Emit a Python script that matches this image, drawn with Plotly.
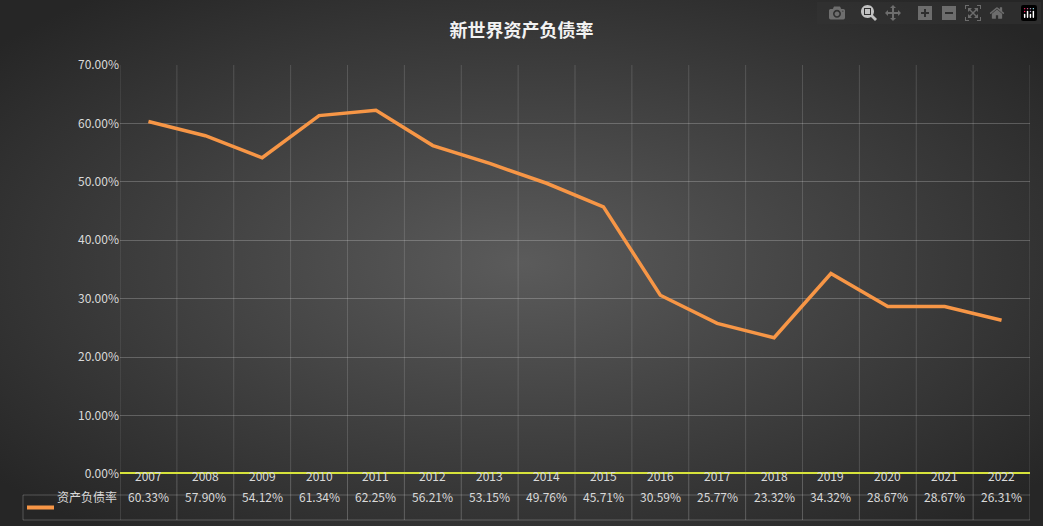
import base64
import plotly.graph_objects as go

years = ["2007", "2008", "2009", "2010", "2011", "2012", "2013", "2014",
         "2015", "2016", "2017", "2018", "2019", "2020", "2021", "2022"]
ratio = [60.33, 57.90, 54.12, 61.34, 62.25, 56.21, 53.15, 49.76,
         45.71, 30.59, 25.77, 23.32, 34.32, 28.67, 28.67, 26.31]
series_name = "资产负债率"
title = "<b>新世界资产负债率</b>"

W, H = 1043, 526
L, R, T, B = 120, 13, 65, 52
font = "Noto Sans CJK SC"
line_col = "rgba(255,255,255,0.22)"
txt_col = "#d9d9d9"

svg = f'''<svg xmlns="http://www.w3.org/2000/svg" width="{W}" height="{H}">
<defs><radialGradient id="g" cx="50%" cy="50%" r="65%">
<stop offset="0" stop-color="#5b5b5b"/><stop offset="1" stop-color="#262626"/>
</radialGradient></defs><rect width="{W}" height="{H}" fill="url(#g)"/></svg>'''
bg = "data:image/svg+xml;base64," + base64.b64encode(svg.encode()).decode()

pw, ph = W - L - R, H - T - B
px = lambda v: (v - L) / pw
py = lambda v: (H - B - v) / ph  # v measured from top of figure -> paper y

fig = go.Figure(go.Scatter(
    x=years, y=ratio, mode="lines", name=series_name,
    line=dict(color="#f79646", width=3.5),
))

shapes, annots = [], []
row1_top, row1_bot, row2_bot = H - B, H - B + 21, H - 6
n = len(years)
# vertical table lines
for i in range(n + 1):
    xi = i - 0.5
    shapes.append(dict(type="line", xref="x", yref="paper", x0=xi, x1=xi,
                       y0=py(row1_top), y1=py(row2_bot), line=dict(color=line_col, width=1)))
# horizontal table lines
for yv in [row1_bot, row2_bot]:
    shapes.append(dict(type="line", xref="paper", yref="paper", x0=px(23), x1=1,
                       y0=py(yv), y1=py(yv), line=dict(color=line_col, width=1)))
shapes.append(dict(type="line", xref="paper", yref="paper", x0=px(23), x1=px(23),
                   y0=py(row1_bot), y1=py(row2_bot), line=dict(color=line_col, width=1)))
# legend key in table
mid2 = (row1_bot + row2_bot) / 2
shapes.append(dict(type="line", xref="paper", yref="paper", x0=px(27), x1=px(54),
                   y0=py(mid2), y1=py(mid2), line=dict(color="#f79646", width=4)))
annots.append(dict(xref="paper", yref="paper", x=px(55), y=py(mid2),
                   text=series_name, showarrow=False, xanchor="left",
                   font=dict(size=12, color=txt_col, family=font)))
for i, (yr, v) in enumerate(zip(years, ratio)):
    annots.append(dict(xref="x", yref="paper", x=i, y=py((row1_top + row1_bot) / 2 + 1),
                       text=yr, showarrow=False, font=dict(size=12, color=txt_col, family=font)))
    annots.append(dict(xref="x", yref="paper", x=i, y=py(mid2),
                       text=f"{v:.2f}%", showarrow=False, font=dict(size=12, color=txt_col, family=font)))
# yellow baseline
shapes.append(dict(type="line", xref="paper", yref="y", x0=0, x1=1, y0=0, y1=0,
                   line=dict(color="#d7e33b", width=4)))

fig.update_layout(
    width=W, height=H, margin=dict(l=L, r=R, t=T, b=B),
    paper_bgcolor="#333333", plot_bgcolor="rgba(0,0,0,0)",
    showlegend=False,
    title=dict(text=title, x=0.5, y=1 - 31 / H, yanchor="middle",
               font=dict(size=18, color="#f2f2f2", family=font)),
    images=[dict(source=bg, xref="paper", yref="paper", x=-L / pw, y=1 + T / ph,
                 sizex=W / pw, sizey=H / ph, sizing="stretch", layer="below",
                 xanchor="left", yanchor="top")],
    xaxis=dict(type="category", range=[-0.5, n - 0.5], showticklabels=False,
               showgrid=False, zeroline=False, showline=False, ticks=""),
    yaxis=dict(range=[0, 70], dtick=10, ticksuffix=".00%", showgrid=True,
               gridcolor=line_col, zeroline=False, showline=False,
               tickfont=dict(size=12, color=txt_col, family=font)),
    shapes=shapes, annotations=annots,
)
# vertical gridlines in plot area
for i in range(n + 1):
    fig.add_shape(type="line", xref="x", yref="paper", x0=i - 0.5, x1=i - 0.5, y0=0, y1=1,
                  line=dict(color="rgba(255,255,255,0.15)", width=1), layer="below")

fig.write_html("out.html", post_script="document.body.style.margin='0';")
